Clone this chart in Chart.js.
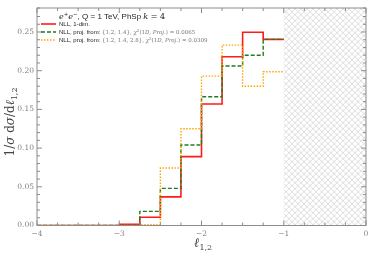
<!DOCTYPE html>
<html>
<head>
<meta charset="utf-8">
<script src="https://cdn.jsdelivr.net/npm/chart.js@4.4.0/dist/chart.umd.min.js"></script>
<style>
  html, body { margin: 0; padding: 0; background: #fff; }
  #wrap { width: 374px; height: 256px; }
</style>
</head>
<body>
<div id="wrap"><canvas id="chart" width="374" height="256"></canvas></div>
<script>
// ビンの境界 (ℓ1,2)
const binEdges = [-4, -3, -2.75, -2.5, -2.25, -2, -1.75, -1.5, -1.25, -1];
// 各ビンの値
const nll1dim = [0, 0.0015, 0.0106, 0.037, 0.089, 0.157, 0.218, 0.2496, 0.2405];
const nllProj2 = [0, 0, 0.0183, 0.048, 0.104, 0.1664, 0.206, 0.220, 0.2405];
const nllProj3 = [0, 0, 0.001, 0.0743, 0.125, 0.193, 0.233, 0.180, 0.1987];
const xTickLabels = [-4, -3, -2, -1, 0];
const yTickLabels = [0, 0.05, 0.10, 0.15, 0.20, 0.25];
const hatchRange = [-1, 0];

const SERIF = '"DejaVu Serif", "Liberation Serif", serif';
const SANS = '"Liberation Sans", "DejaVu Sans", sans-serif';
const AXIS_COLOR = '#8c8c8c';

// ステップ用の点列を作る
function toSteps(values) {
  const pts = values.map((v, i) => ({ x: binEdges[i], y: v }));
  pts.push({ x: binEdges[binEdges.length - 1], y: values[values.length - 1] });
  return pts;
}

function isLabelTick(v, list) {
  return list.some(t => Math.abs(t - v) < 1e-6);
}

// ハッチ・枠・目盛り・凡例を描くプラグイン
const decorPlugin = {
  id: 'decor',
  beforeDatasetsDraw(chart) {
    const { ctx, chartArea: a, scales } = chart;
    const x0 = scales.x.getPixelForValue(hatchRange[0]);
    const x1 = scales.x.getPixelForValue(hatchRange[1]);
    ctx.save();
    ctx.beginPath();
    ctx.rect(x0, a.top, x1 - x0, a.bottom - a.top);
    ctx.clip();
    ctx.strokeStyle = '#c8c8c8';
    ctx.lineWidth = 0.6;
    const step = 6;
    const h = a.bottom - a.top;
    for (let s = x0 - h; s < x1 + h; s += step) {
      ctx.beginPath();
      ctx.moveTo(s, a.bottom);
      ctx.lineTo(s + h, a.top);
      ctx.stroke();
      ctx.beginPath();
      ctx.moveTo(s, a.top);
      ctx.lineTo(s + h, a.bottom);
      ctx.stroke();
    }
    ctx.restore();
  },
  afterDraw(chart) {
    const { ctx, chartArea: a, scales } = chart;
    ctx.save();
    // 枠
    ctx.strokeStyle = AXIS_COLOR;
    ctx.lineWidth = 1;
    ctx.strokeRect(a.left, a.top, a.right - a.left, a.bottom - a.top);

    // 目盛り (内向き)
    scales.x.ticks.forEach(t => {
      const px = scales.x.getPixelForValue(t.value);
      const len = isLabelTick(t.value, xTickLabels) ? 5 : 3;
      ctx.beginPath();
      ctx.moveTo(px, a.bottom); ctx.lineTo(px, a.bottom - len);
      ctx.moveTo(px, a.top); ctx.lineTo(px, a.top + len);
      ctx.stroke();
    });
    scales.y.ticks.forEach(t => {
      const py = scales.y.getPixelForValue(t.value);
      const len = isLabelTick(t.value, yTickLabels) ? 5 : 3;
      ctx.beginPath();
      ctx.moveTo(a.left, py); ctx.lineTo(a.left + len, py);
      ctx.moveTo(a.right, py); ctx.lineTo(a.right - len, py);
      ctx.stroke();
    });

    // 軸タイトル
    ctx.fillStyle = '#444';
    ctx.textBaseline = 'alphabetic';
    ctx.font = 'italic 13px ' + SERIF;
    const xt = 'ℓ';
    const xtx = 194;
    ctx.fillText(xt, xtx, 247);
    const w = ctx.measureText(xt).width;
    ctx.font = '8px ' + SERIF;
    ctx.fillText('1,2', xtx + w, 250);

    ctx.save();
    ctx.translate(14, 122);
    ctx.rotate(-Math.PI / 2);
    ctx.textAlign = 'left';
    const parts = [
      ['1/', '12px ' + SERIF, 0],
      ['σ', 'italic 12px ' + SERIF, 0],
      [' d', '12px ' + SERIF, 0],
      ['σ', 'italic 12px ' + SERIF, 0],
      ['/d', '12px ' + SERIF, 0],
      ['ℓ', 'italic 12px ' + SERIF, 0],
      ['1,2', '8px ' + SERIF, 3]
    ];
    let total = 0;
    parts.forEach(p => { ctx.font = p[1]; total += ctx.measureText(p[0]).width; });
    let cx = -total / 2;
    parts.forEach(p => {
      ctx.font = p[1];
      ctx.fillText(p[0], cx, p[2]);
      cx += ctx.measureText(p[0]).width;
    });
    ctx.restore();

    // 凡例
    ctx.textAlign = 'left';
    ctx.fillStyle = '#222';
    const title = [
      ['e', 'italic 8px ' + SERIF, 0],
      ['+', '5.5px ' + SERIF, -3],
      ['e', 'italic 8px ' + SERIF, 0],
      ['−', '5.5px ' + SERIF, -3],
      [', Q = 1 TeV, PhSp ', '8px ' + SANS, 0],
      ['k', 'italic 8px ' + SERIF, 0],
      [' = 4', '8px ' + SERIF, 0]
    ];
    let tw = 0;
    title.forEach(p => { ctx.font = p[1]; tw += ctx.measureText(p[0]).width; });
    let tx = 112 - tw / 2;
    title.forEach(p => {
      ctx.font = p[1];
      ctx.fillText(p[0], tx, 19 + p[2]);
      tx += ctx.measureText(p[0]).width;
    });

    const entries = [
      { color: '#ff1a1a', dash: [], width: 1.6, y: 26,
        parts: [['NLL, 1-dim.', '6px ' + SANS, '#222']] },
      { color: '#1e7d1e', dash: [4, 2], width: 1.4, y: 34,
        parts: [['NLL, proj. from: ', '6px ' + SANS, '#222'],
                ['{1.2, 1.4}, ', '5.5px ' + SERIF, '#777'],
                ['χ', 'italic 5.5px ' + SERIF, '#777'],
                ['2', '4px ' + SERIF, '#777', -2],
                ['(1', '5.5px ' + SERIF, '#777'],
                ['D, Proj.', 'italic 5.5px ' + SERIF, '#777'],
                [') = 0.0065', '5.5px ' + SERIF, '#777']] },
      { color: '#ffa500', dash: [1.5, 1.5], width: 1.4, y: 42,
        parts: [['NLL, proj. from: ', '6px ' + SANS, '#222'],
                ['{1.2, 1.4, 2.8}, ', '5.5px ' + SERIF, '#777'],
                ['χ', 'italic 5.5px ' + SERIF, '#777'],
                ['2', '4px ' + SERIF, '#777', -2],
                ['(1', '5.5px ' + SERIF, '#777'],
                ['D, Proj.', 'italic 5.5px ' + SERIF, '#777'],
                [') = 0.0309', '5.5px ' + SERIF, '#777']] }
    ];
    entries.forEach(e => {
      ctx.save();
      ctx.strokeStyle = e.color;
      ctx.lineWidth = e.width;
      ctx.setLineDash(e.dash);
      ctx.beginPath();
      ctx.moveTo(41, e.y - 2);
      ctx.lineTo(56, e.y - 2);
      ctx.stroke();
      ctx.restore();
      let ex = 59;
      e.parts.forEach(p => {
        ctx.font = p[1];
        ctx.fillStyle = p[2];
        ctx.fillText(p[0], ex, e.y + (p[3] || 0));
        ex += ctx.measureText(p[0]).width;
      });
    });
    ctx.restore();
  }
};

const ctx = document.getElementById('chart').getContext('2d');
new Chart(ctx, {
  type: 'line',
  data: {
    // 先頭のデータセットが一番上に描かれる
    datasets: [
      {
        label: 'NLL, proj. from: {1.2,1.4,2.8}',
        data: toSteps(nllProj3),
        borderColor: '#ffa500',
        borderWidth: 1.4,
        borderDash: [1.5, 1.5],
        stepped: 'before',
        pointRadius: 0,
        fill: false
      },
      {
        label: 'NLL, proj. from: {1.2,1.4}',
        data: toSteps(nllProj2),
        borderColor: '#1e7d1e',
        borderWidth: 1.4,
        borderDash: [4, 2],
        stepped: 'before',
        pointRadius: 0,
        fill: false
      },
      {
        label: 'NLL, 1-dim.',
        data: toSteps(nll1dim),
        borderColor: '#ff1a1a',
        borderWidth: 1.6,
        stepped: 'before',
        pointRadius: 0,
        fill: false
      }
    ]
  },
  options: {
    responsive: false,
    animation: false,
    events: [],
    layout: { padding: { top: 8, right: 8, left: 0, bottom: 0 } },
    plugins: {
      legend: { display: false },
      tooltip: { enabled: false }
    },
    scales: {
      x: {
        type: 'linear',
        min: -4,
        max: 0,
        border: { display: false },
        grid: { display: false, drawTicks: false },
        afterFit: s => { s.height = 30.5; },
        ticks: {
          stepSize: 0.25,
          autoSkip: false,
          maxRotation: 0,
          padding: 4,
          color: '#808080',
          font: { family: SERIF, size: 7.5 },
          callback: v => isLabelTick(v, xTickLabels) ? (v < 0 ? '−' + Math.abs(v) : String(v)) : ''
        }
      },
      y: {
        min: 0,
        max: 0.281,
        border: { display: false },
        grid: { display: false, drawTicks: false },
        afterFit: s => { s.width = 37; },
        ticks: {
          stepSize: 0.01,
          autoSkip: false,
          padding: 3,
          color: '#808080',
          font: { family: SERIF, size: 7.5 },
          callback: v => isLabelTick(v, yTickLabels) ? v.toFixed(2) : ''
        }
      }
    }
  },
  plugins: [decorPlugin]
});
</script>
</body>
</html>
